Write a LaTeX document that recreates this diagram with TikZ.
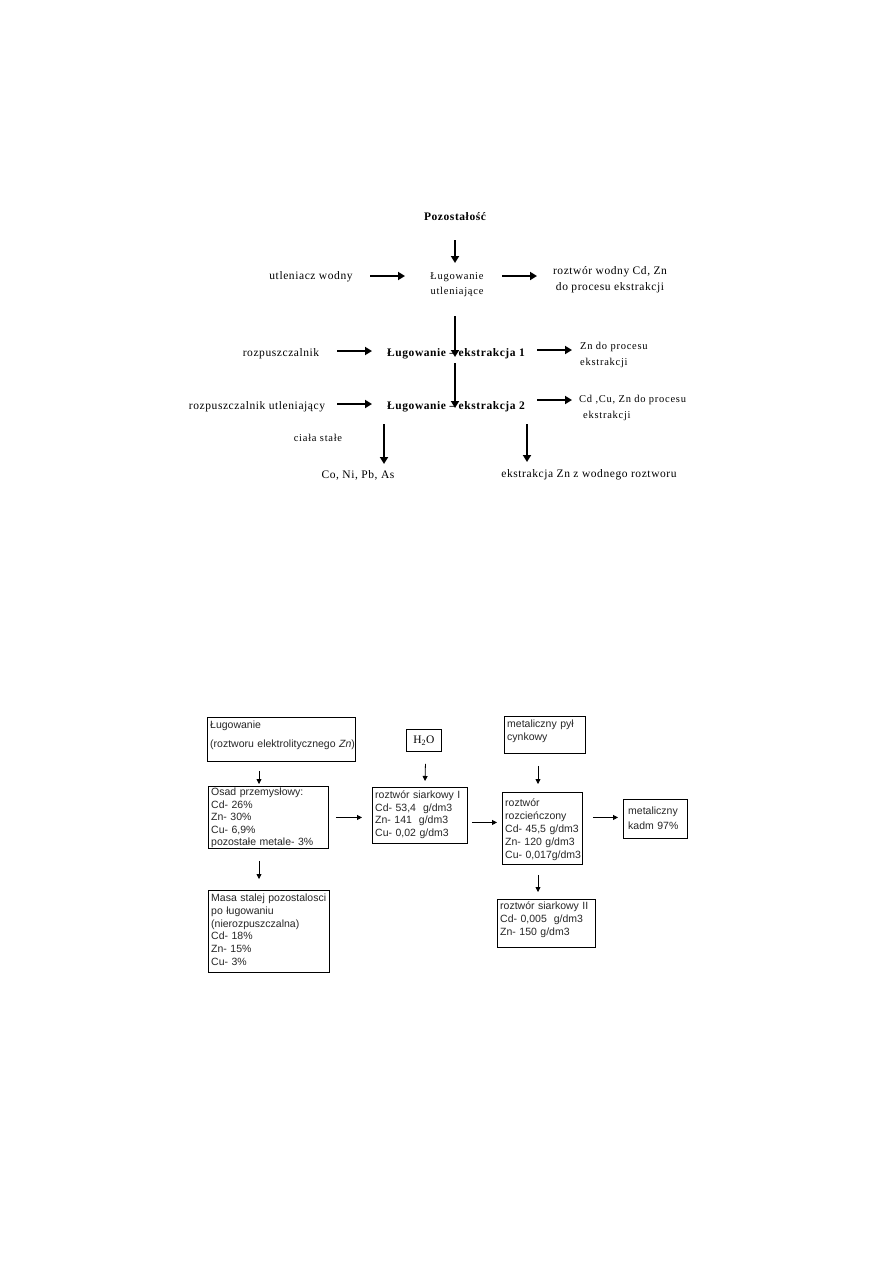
\documentclass[tikz,border=0pt]{standalone}
\usepackage{fontspec}
\setmainfont{Liberation Serif}
\newfontfamily\serifsp[LetterSpace=5]{Liberation Serif}
\newfontfamily\serifwide[LetterSpace=7]{Liberation Serif}
\newfontfamily\arialf{Liberation Sans}
\usetikzlibrary{arrows.meta,calc}
\begin{document}
\begin{tikzpicture}[x=1pt,y=-1pt,
 lab/.style={inner sep=0pt, font=\serifsp\fontsize{11.5}{16}\selectfont},
 blab/.style={inner sep=0pt, font=\serifsp\bfseries\fontsize{11.5}{14}\selectfont},
 slab/.style={inner sep=0pt, font=\serifwide\fontsize{10.5}{16}\selectfont},
 bigarr/.style={line width=2.2pt, -{Triangle[length=7pt,width=8pt]}},
 smallarr/.style={line width=0.8pt, -{Triangle[length=5pt,width=5pt]}},
 box/.style={draw, line width=0.9pt, anchor=north west, inner sep=0pt},
 btxt/.style={anchor=base west, inner sep=0pt, align=left, text width=200pt, text=black!85, font=\arialf\fontsize{10.5}{12.5}\selectfont},
]
\fill[white] (0,0) rectangle (893,1263);
\useasboundingbox (0,0) rectangle (893,1263);

% ---------- upper scheme ----------
\node[blab] (poz) at (455,217) {Pozostałość};
\node[lab] (utl) at (311,277) {utleniacz wodny};
\node[slab, align=center, font=\serifwide\fontsize{10.5}{15}\selectfont] (lug0) at (457,285) {Ługowanie\\utleniające};
\node[lab, align=center] (rw) at (610,280) {roztwór wodny Cd, Zn\\do procesu ekstrakcji};
\node[lab] (rozp) at (281,354) {rozpuszczalnik};
\node[blab] (e1) at (456,354) {Ługowanie – ekstrakcja 1};
\node[slab, align=left, anchor=west] (zn) at (580,355) {Zn do procesu\\ekstrakcji};
\node[lab] (rozpu) at (257,407) {rozpuszczalnik utleniający};
\node[blab] (e2) at (456,407) {Ługowanie – ekstrakcja 2};
\node[slab, align=left, anchor=west] (cd) at (579,408) {Cd ,Cu, Zn do procesu\\\hspace*{4pt}ekstrakcji};
\node[slab] (cs) at (318,438) {ciała stałe};
\node[lab] (co) at (358,475) {Co, Ni, Pb, As};
\node[lab] (ek) at (589,475) {ekstrakcja Zn z wodnego roztworu};

\coordinate (p1s) at (455,240); \coordinate (p1e) at (455,263);
\coordinate (p2s) at (370,276); \coordinate (p2e) at (405,276);
\coordinate (p3s) at (502,276); \coordinate (p3e) at (537,276);
\coordinate (p4s) at (455,316); \coordinate (p4e) at (455,357);
\coordinate (p5s) at (337,351); \coordinate (p5e) at (372,351);
\coordinate (p6s) at (537,350); \coordinate (p6e) at (572,350);
\coordinate (p7s) at (337,404); \coordinate (p7e) at (372,404);
\coordinate (p8s) at (455,363); \coordinate (p8e) at (455,408);
\coordinate (p9s) at (537,400); \coordinate (p9e) at (572,400);
\coordinate (p10s) at (384,424); \coordinate (p10e) at (384,464);
\coordinate (p11s) at (527,424); \coordinate (p11e) at (527,462);

\draw[bigarr] (p1s) -- (p1e);
\draw[bigarr] (p2s) -- (p2e);
\draw[bigarr] (p3s) -- (p3e);
\draw[bigarr] (p4s) -- (p4e);
\draw[bigarr] (p5s) -- (p5e);
\draw[bigarr] (p6s) -- (p6e);
\draw[bigarr] (p7s) -- (p7e);
\draw[bigarr] (p8s) -- (p8e);
\draw[bigarr] (p9s) -- (p9e);
\draw[bigarr] (p10s) -- (p10e);
\draw[bigarr] (p11s) -- (p11e);

% ---------- lower scheme ----------
\node[box, minimum width=148pt, minimum height=44pt] (B1) at (207,717) {};
\node[btxt] (B1t) at (210,728) {Ługowanie\\[6.5pt](roztworu elektrolitycznego \textit{Zn})};

\node[box, minimum width=120pt, minimum height=62pt] (B2) at (208,786) {};
\node[btxt] (B2t) at (211,795.5) {Osad przemysłowy:\\Cd- 26\%\\Zn- 30\%\\Cu- 6,9\%\\pozostałe metale- 3\%};

\node[box, minimum width=121pt, minimum height=82pt] (B3) at (208,890) {};
\node[btxt, font=\arialf\fontsize{10.5}{12.8}\selectfont] (B3t) at (211,901.5) {Masa stalej pozostalosci\\po ługowaniu\\(nierozpuszczalna)\\Cd- 18\%\\Zn- 15\%\\Cu- 3\%};

\node[box, minimum width=35pt, minimum height=22pt, font=\fontsize{11.5}{14}\selectfont] (H) at (406,729) {H\textsubscript{2}O};

\node[box, minimum width=95pt, minimum height=56pt] (B4) at (372,787) {};
\node[btxt] (B4t) at (375,798.5) {roztwór siarkowy I\\Cd- 53,4 \ g/dm3\\Zn- 141 \ g/dm3\\Cu- 0,02 g/dm3};

\node[box, minimum width=81pt, minimum height=37pt] (M) at (504,716) {};
\node[btxt, font=\arialf\fontsize{10.5}{13}\selectfont] (Mt) at (507,727.5) {metaliczny pył\\cynkowy};

\node[box, minimum width=80pt, minimum height=72pt] (B5) at (502,792) {};
\node[btxt, font=\arialf\fontsize{10.5}{13}\selectfont] (B5t) at (505,806.5) {roztwór\\rozcieńczony\\Cd- 45,5 g/dm3\\Zn- 120 g/dm3\\Cu- 0,017g/dm3};

\node[box, minimum width=64pt, minimum height=39pt] (B6) at (623,799) {};
\node[btxt, font=\arialf\fontsize{10.5}{15}\selectfont] (B6t) at (628,814.5) {metaliczny\\kadm 97\%};

\node[box, minimum width=98pt, minimum height=48pt] (B7) at (497,899) {};
\node[btxt, font=\arialf\fontsize{10.5}{13}\selectfont] (B7t) at (500,909.5) {roztwór siarkowy II\\Cd- 0,005 \ g/dm3\\Zn- 150 g/dm3};

\draw[smallarr] ($(B1.south west)+(52,9)$) -- ($(B2.north west)+(51,-2)$);
\draw[smallarr] ($(B2.south west)+(51,12)$) -- ($(B3.north west)+(51,-11)$);
\draw[smallarr] ($(B2.east)+(7,0)$) -- ($(B4.west)+(-10,2)$);
\draw[smallarr] ($(H.south)+(1.5,12)$) -- ($(B4.north west)+(53,-6)$);
\draw[smallarr] ($(B4.east)+(4,7)$) -- ($(B5.west)+(-5,-6)$);
\draw[smallarr] ($(M.south west)+(34,12)$) -- ($(B5.north west)+(36,-8)$);
\draw[smallarr] ($(B5.east)+(10,-11)$) -- ($(B6.west)+(-5,-1.5)$);
\draw[smallarr] ($(B5.south west)+(36,10)$) -- ($(B7.north west)+(41,-7)$);
\end{tikzpicture}
\end{document}
